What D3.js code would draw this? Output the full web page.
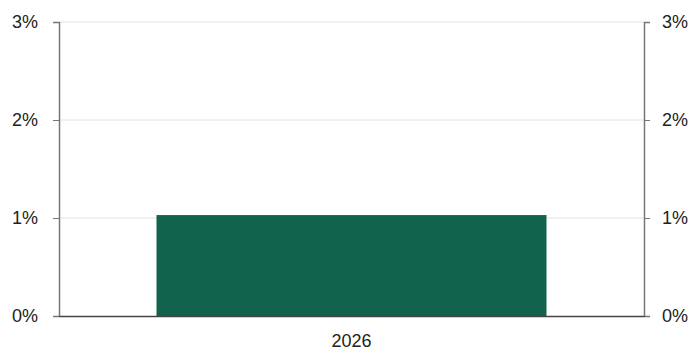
<!DOCTYPE html>
<meta charset="utf-8">
<style>
body { margin: 0; background: #fff; }
svg { display: block; font-family: "Liberation Sans", Arial, sans-serif; }
.tick text { fill: #222; font-size: 18px; }
</style>
<body>
<script src="https://cdn.jsdelivr.net/npm/d3@7"></script>
<script>
const years = ["2026"];
const values = [1.03];
const yTicks = [0, 1, 2, 3];

const width = 694, height = 350,
      margin = {top: 22, right: 50, bottom: 34, left: 59};

const svg = d3.select("body").append("svg")
    .attr("width", width)
    .attr("height", height);

const x = d3.scaleBand()
    .domain(years)
    .range([margin.left, width - margin.right])
    .paddingInner(0.2)
    .paddingOuter(0.2);

const y = d3.scaleLinear()
    .domain([0, 3])
    .range([height - margin.bottom, margin.top]);

// gridlines
svg.append("g")
  .selectAll("line")
  .data(yTicks.slice(1))
  .join("line")
    .attr("x1", margin.left)
    .attr("x2", width - margin.right)
    .attr("y1", d => y(d))
    .attr("y2", d => y(d))
    .attr("stroke", "#e2e2e2");

// bars
svg.append("g")
  .selectAll("rect")
  .data(values)
  .join("rect")
    .attr("x", (d, i) => x(years[i]))
    .attr("y", d => y(d))
    .attr("width", x.bandwidth())
    .attr("height", d => y(0) - y(d))
    .attr("fill", "#12634e");

const fmt = d => d + "%";

const left = svg.append("g")
    .attr("transform", `translate(${margin.left},0)`)
    .call(d3.axisLeft(y).tickValues(yTicks).tickFormat(fmt).tickSize(6).tickPadding(15));

const right = svg.append("g")
    .attr("transform", `translate(${width - margin.right},0)`)
    .call(d3.axisRight(y).tickValues(yTicks).tickFormat(fmt).tickSize(6).tickPadding(12));

[left, right].forEach(g => {
  g.select(".domain").attr("stroke", "#777").attr("stroke-width", 1.5);
  g.selectAll(".tick line").attr("stroke", "#777");
});

const bottom = svg.append("g")
    .attr("transform", `translate(0,${height - margin.bottom})`)
    .call(d3.axisBottom(x).tickSize(0).tickPadding(18));
bottom.select(".domain").attr("stroke", "#444").attr("stroke-width", 1.5);
</script>
</body>
